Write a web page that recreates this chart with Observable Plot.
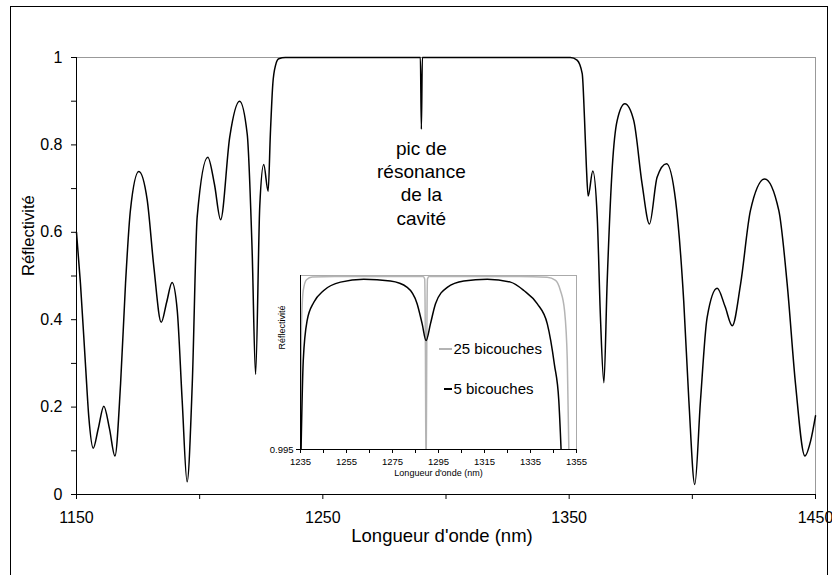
<!DOCTYPE html>
<html>
<head>
<meta charset="utf-8">
<script src="https://cdn.jsdelivr.net/npm/d3@7"></script>
<script src="https://cdn.jsdelivr.net/npm/@observablehq/plot@0.6"></script>
<style>
  html, body { margin: 0; padding: 0; background: #fff; }
  #wrap { position: relative; width: 832px; height: 575px; overflow: hidden; font-family: "Liberation Sans", Arial, sans-serif; }
  #border { position: absolute; left: 10px; top: 6px; width: 818px; height: 620px; border: 1px solid #000; box-sizing: border-box; pointer-events: none; }
  #main { position: absolute; left: 0; top: 0; }
  #inset { position: absolute; left: 270px; top: 270px; }
  .leg { position: absolute; font-size: 15px; line-height: 15px; color: #000; white-space: nowrap; }
  .leg span.key { position: absolute; top: 7px; height: 0; border-top: 2px solid #000; }
</style>
</head>
<body>
<div id="wrap">
  <div id="main"></div>
  <div id="inset"></div>
  <div id="legend"></div>
  <div id="border"></div>
</div>
<script>
// ---------- Main chart data (wavelength nm, reflectivity) ----------
const wavelength = [1150, 1151.6, 1153.7, 1155, 1156.8, 1158.8, 1161.1, 1163.4, 1165.6, 1167.9, 1169.9, 1171.9,
  1175.3, 1178.7, 1181.4, 1184.4, 1186.6, 1188.8, 1190.9, 1192.9, 1194.9, 1197, 1199, 1203.3, 1206, 1208.5,
  1212.2, 1216.2, 1219.3, 1221.3, 1222.7, 1224.4, 1226, 1227.8, 1228.7, 1229.7, 1230.8, 1232.1, 1234.8,
  1289.6, 1290, 1290.4, 1350.5, 1353.2, 1355.3, 1356.2, 1357, 1357.7, 1359.6, 1361.4, 1362.7, 1364.1, 1365.4,
  1367.5, 1369.5, 1372.6, 1376.2, 1379.6, 1382.6, 1385.7, 1389.5, 1393.2, 1396.5, 1398.6, 1401, 1403.3, 1406,
  1410.1, 1413.3, 1416.2, 1419.6, 1423.6, 1429.4, 1435.1, 1438.5, 1441.9, 1445.7, 1448, 1450];
const reflectivity = [0.60, 0.483, 0.292, 0.177, 0.106, 0.15, 0.202, 0.15, 0.088, 0.254, 0.483, 0.651,
  0.739, 0.674, 0.521, 0.394, 0.44, 0.485, 0.421, 0.215, 0.029, 0.254, 0.636, 0.772, 0.71, 0.629,
  0.818, 0.9, 0.825, 0.558, 0.275, 0.66, 0.755, 0.694, 0.825, 0.94, 0.982, 0.997, 1.0,
  1.0, 0.836, 1.0, 1.0, 0.994, 0.963, 0.864, 0.749, 0.683, 0.740, 0.634, 0.405, 0.256, 0.482,
  0.749, 0.856, 0.894, 0.856, 0.711, 0.619, 0.726, 0.757, 0.673, 0.443, 0.214, 0.023, 0.214, 0.405,
  0.472, 0.43, 0.386, 0.482, 0.65, 0.722, 0.65, 0.482, 0.252, 0.088, 0.122, 0.18];

const mainXTicks = [1150, 1200, 1250, 1300, 1350, 1400, 1450];
const mainXLabels = [1150, 1250, 1350, 1450];
const mainYTicks = [0, 0.1, 0.2, 0.3, 0.4, 0.5, 0.6, 0.7, 0.8, 0.9, 1];
const mainYLabels = [0, 0.2, 0.4, 0.6, 0.8, 1];
const mainXTitle = "Longueur d'onde (nm)";
const mainYTitle = "Réflectivité";
const annotationText = ["pic de\nrésonance\nde la\ncavité"];
const annotationX = 1290;
const annotationY = 0.7147;

// ---------- Inset data ----------
const wl5 = [1235.1, 1236.2, 1237.9, 1240.8, 1245.1, 1252.4, 1262.5, 1274.1, 1281.4, 1285.7, 1287.9, 1289.6,
  1291.5, 1293.7, 1298.8, 1306, 1316.2, 1326.3, 1332.1, 1337.9, 1342.3, 1345.4, 1347.3, 1348.6];
const r5 = [0.9945, 0.99756, 0.99871, 0.99923, 0.99957, 0.99981, 0.99989, 0.99984, 0.99966, 0.99919, 0.99861, 0.99813,
  0.99861, 0.99919, 0.99966, 0.99984, 0.99989, 0.99981, 0.99957, 0.99919, 0.99861, 0.99744, 0.99641, 0.9945];
const wl25 = [1235.1, 1235.4, 1236.2, 1237.6, 1240.1, 1250, 1288.3, 1289.0, 1289.3, 1289.6, 1289.9, 1290.2, 1290.9,
  1330, 1342.2, 1345.9, 1348, 1349.8, 1351, 1351.8];
const r25 = [0.9945, 0.99851, 0.99957, 0.99988, 0.99996, 0.99997, 0.99997, 0.9999, 0.998, 0.994, 0.998, 0.9999, 0.99997,
  0.99997, 0.99995, 0.99986, 0.99957, 0.99899, 0.99756, 0.9945];

const insetXTicks = [1235, 1245, 1255, 1265, 1275, 1285, 1295, 1305, 1315, 1325, 1335, 1345, 1355];
const insetXLabels = [1235, 1255, 1275, 1295, 1315, 1335, 1355];
const insetYTicks = [0.995];
const legendLabels = ["25 bicouches", "5 bicouches"];
const legendColors = ["#b4b4b4", "#000000"];

const FONT = "'Liberation Sans', Arial, sans-serif";

// ---------- Main plot ----------
const mainData = wavelength.map((w, i) => ({w, r: reflectivity[i]}));
const main = Plot.plot({
  width: 832, height: 575,
  marginLeft: 76, marginRight: 17, marginTop: 57, marginBottom: 81,
  x: {domain: [1150, 1450]},
  y: {domain: [0, 1]},
  style: {fontFamily: FONT, fontSize: "16px", color: "#000", background: "transparent", overflow: "visible"},
  marks: [
    Plot.ruleY([1], {stroke: "#999"}),
    Plot.ruleX([1450], {stroke: "#999"}),
    Plot.axisX({ticks: mainXTicks, tickSize: 5, tickFormat: () => "", label: null}),
    Plot.axisX({ticks: mainXLabels, tickSize: 0, tickPadding: 17, tickFormat: d => String(d), label: null, fontSize: 16}),
    Plot.axisY({ticks: mainYTicks, tickSize: 5, tickFormat: () => "", label: null}),
    Plot.axisY({ticks: mainYLabels, tickSize: 0, tickPadding: 14, tickFormat: d => String(d), label: null, fontSize: 16}),
    Plot.line(mainData, {x: "w", y: "r", curve: "monotone-x", stroke: "#000", strokeWidth: 1.5}),
    Plot.ruleX([1150], {stroke: "#000"}),
    Plot.ruleY([0], {stroke: "#000"}),
    Plot.text(annotationText, {x: () => annotationX, y: () => annotationY, text: d => d, fontSize: 19, lineHeight: 1.23, fill: "#000"}),
    Plot.text([mainYTitle], {frameAnchor: "left", dx: -48, rotate: -90, text: d => d, fontSize: 16.5, fill: "#000"}),
    Plot.text([mainXTitle], {frameAnchor: "bottom", dx: -4, dy: 47, text: d => d, fontSize: 18.5, fill: "#000"})
  ]
});
document.getElementById("main").appendChild(main);

// ---------- Inset plot ----------
const d5 = wl5.map((w, i) => ({w, r: r5[i]}));
const d25 = wl25.map((w, i) => ({w, r: r25[i]}));
const inset = Plot.plot({
  width: 318, height: 214,
  marginLeft: 30, marginRight: 12, marginTop: 5, marginBottom: 35,
  x: {domain: [1235, 1355]},
  y: {domain: [0.995, 1]},
  style: {fontFamily: FONT, fontSize: "9.5px", color: "#000", background: "transparent", overflow: "visible"},
  marks: [
    Plot.frame({fill: "#fff", stroke: null}),
    Plot.ruleY([1], {stroke: "#aaa"}),
    Plot.ruleX([1355], {stroke: "#aaa"}),
    Plot.line(d25, {x: "w", y: "r", curve: "monotone-x", stroke: legendColors[0], strokeWidth: 1.5, clip: true}),
    Plot.line(d5, {x: "w", y: "r", curve: "monotone-x", stroke: legendColors[1], strokeWidth: 1.5, clip: true}),
    Plot.ruleX([1235], {stroke: "#000"}),
    Plot.ruleY([0.995], {stroke: "#000"}),
    Plot.axisX({ticks: insetXTicks, tickSize: 4, tickFormat: () => "", label: null}),
    Plot.axisX({ticks: insetXLabels, tickSize: 0, tickPadding: 9, tickFormat: d => String(d), label: null, fontSize: 9.5}),
    Plot.axisY({ticks: insetYTicks, tickSize: 4, tickPadding: 3, tickFormat: d => d.toFixed(3), label: null, fontSize: 9.5}),
    Plot.text(["Réflectivité"], {frameAnchor: "left", dx: -18, dy: -13, rotate: -90, text: d => d, fontSize: 9, fill: "#000"}),
    Plot.text(["Longueur d'onde (nm)"], {frameAnchor: "bottom", dy: 26, text: d => d, fontSize: 9, fill: "#000"})
  ]
});
document.getElementById("inset").appendChild(inset);

// ---------- Inset legend ----------
const legendLayout = [{top: 341, keyLeft: 439, keyWidth: 13}, {top: 381, keyLeft: 444, keyWidth: 8}];
const legend = document.getElementById("legend");
legendLabels.forEach((lab, i) => {
  const L = legendLayout[i];
  const div = document.createElement("div");
  div.className = "leg";
  div.style.left = L.keyLeft + "px";
  div.style.top = L.top + "px";
  div.style.paddingLeft = (L.keyWidth + 1.5) + "px";
  const key = document.createElement("span");
  key.className = "key";
  key.style.left = "0px";
  key.style.width = L.keyWidth + "px";
  key.style.borderTopColor = legendColors[i];
  div.appendChild(key);
  div.appendChild(document.createTextNode(lab));
  legend.appendChild(div);
});
</script>
</body>
</html>
